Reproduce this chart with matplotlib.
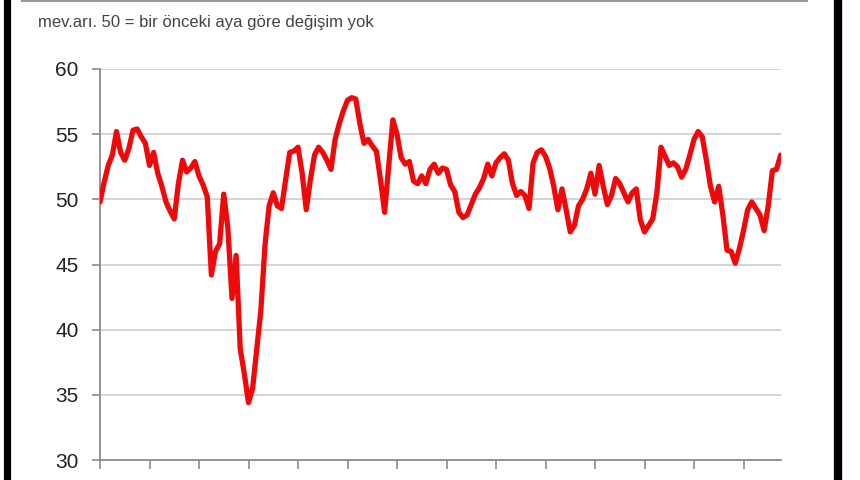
import matplotlib
matplotlib.use("Agg")
import matplotlib.pyplot as plt
from matplotlib.lines import Line2D
import numpy as np

subtitle = "mev.arı. 50 = bir önceki aya göre değişim yok"
y_ticks = [30, 35, 40, 45, 50, 55, 60]
months_per_tick = 12

values = [
    49.8, 51.3, 52.6, 53.4, 55.2, 53.6, 53.0, 53.9, 55.3, 55.4,
    54.8, 54.3, 52.6, 53.6, 52.0, 51.0, 49.8, 49.1, 48.5, 51.2,
    53.0, 52.1, 52.4, 52.9, 51.8, 51.1, 50.2, 44.2, 46.0, 46.6,
    50.4, 47.8, 42.4, 45.7, 38.5, 36.6, 34.4, 35.5, 38.5, 41.5,
    46.5, 49.5, 50.5, 49.5, 49.3, 51.5, 53.6, 53.7, 54.0, 52.0,
    49.2, 51.5, 53.4, 54.0, 53.6, 53.0, 52.3, 54.6, 55.8, 56.8,
    57.6, 57.8, 57.7, 55.8, 54.3, 54.6, 54.1, 53.7, 51.5, 49.0,
    52.6, 56.1, 55.0, 53.2, 52.7, 52.9, 51.4, 51.2, 51.8, 51.2,
    52.3, 52.7, 52.0, 52.4, 52.3, 51.1, 50.6, 49.0, 48.6, 48.8,
    49.6, 50.4, 50.9, 51.6, 52.7, 51.8, 52.8, 53.2, 53.5, 53.0,
    51.2, 50.3, 50.6, 50.3, 49.3, 52.8, 53.6, 53.8, 53.3, 52.4,
    51.0, 49.2, 50.8, 49.2, 47.5, 48.0, 49.5, 50.0, 50.8, 52.0,
    50.4, 52.6, 51.0, 49.6, 50.3, 51.6, 51.2, 50.5, 49.8, 50.5,
    50.8, 48.4, 47.5, 48.0, 48.5, 50.5, 54.0, 53.3, 52.6, 52.8,
    52.5, 51.7, 52.3, 53.4, 54.6, 55.2, 54.8, 53.0, 51.0, 49.8,
    51.0, 48.8, 46.1, 46.0, 45.1, 46.2, 47.6, 49.2, 49.8, 49.3,
    48.8, 47.6, 49.5, 52.2, 52.3, 53.4,
]

plt.rcParams['font.family'] = ['Liberation Sans', 'DejaVu Sans']

fig = plt.figure(figsize=(8.6, 4.8), dpi=100)
fig.patch.set_facecolor('white')
W, H = 860, 480
ax = fig.add_axes([100 / W, 1 - 460 / H, (781 - 100) / W, (460 - 69) / H])

x = np.arange(len(values))
ax.plot(x, values, color='#ee0a0a', lw=3.8, solid_joinstyle='round', solid_capstyle='round', zorder=3)

ax.set_ylim(30, 60)
ax.set_xlim(0, (781 - 100) / (49.5 / months_per_tick))
ax.set_yticks(y_ticks)
ax.set_xticks(np.arange(0, len(values), months_per_tick))
ax.set_xticklabels([])
ax.yaxis.grid(True, color='#d4d4d4', lw=1.4, zorder=0)
ax.set_axisbelow(True)
for s in ['top', 'right']:
    ax.spines[s].set_visible(False)
for s in ['left', 'bottom']:
    ax.spines[s].set_color('#8c8c8c')
    ax.spines[s].set_linewidth(1.3)
ax.tick_params(axis='y', direction='out', length=5.5, width=1.2, color='#8c8c8c',
               labelsize=15, labelcolor='#222222', pad=10)
ax.tick_params(axis='x', direction='out', length=6.5, width=1.2, color='#8c8c8c')

fig.text(38 / W, 1 - 22 / H, subtitle, fontsize=12, color='#444444', va='center', ha='left')

# frame decorations
fig.add_artist(Line2D([6.5 / W, 6.5 / W], [0, 1], transform=fig.transFigure, color='black', lw=5.2))
fig.add_artist(Line2D([838 / W, 838 / W], [0, 1], transform=fig.transFigure, color='black', lw=6))
fig.add_artist(Line2D([22 / W, 807 / W], [1 - 1 / H, 1 - 1 / H], transform=fig.transFigure, color='#999999', lw=1.5))

fig.savefig('out.png', dpi=100)
